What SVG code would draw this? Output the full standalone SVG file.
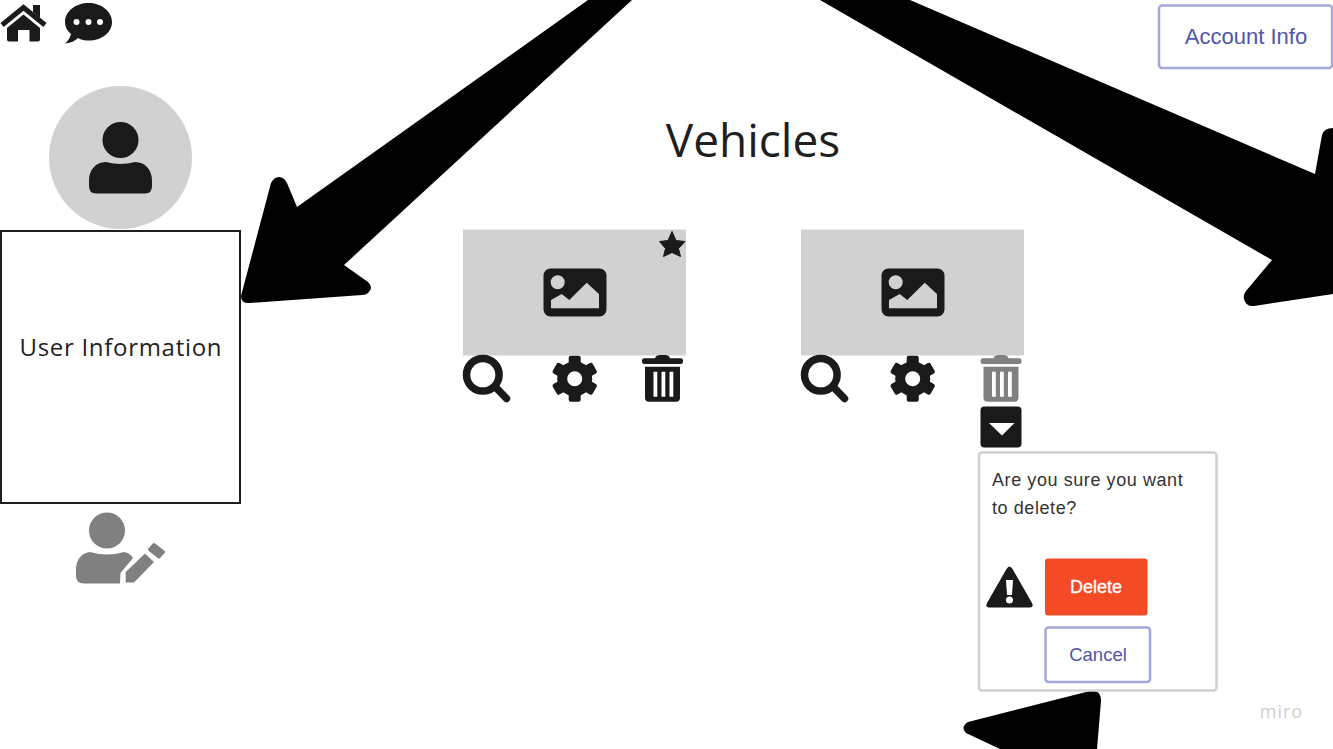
<svg xmlns="http://www.w3.org/2000/svg" width="1333" height="749" viewBox="0 0 1333 749">
<style>
.ink{fill:#1a1a1a}
.gray{fill:#d1d1d1}
.mute{fill:#808080}
.arrow{fill:#000}
.btn{fill:#fff;stroke:#a5a8da;stroke-width:2.5}
.os{font-family:"Open Sans","Noto Sans",sans-serif;fill:#1f1f1f}
.ls{font-family:"Liberation Sans",Arial,sans-serif}
.link{fill:#4f55ad}
</style>
<defs>
<g id="picture"><path class="ink" fill-rule="evenodd" d="M7 0H56a7 7 0 0 1 7 7V41a7 7 0 0 1-7 7H7a7 7 0 0 1-7-7V7a7 7 0 0 1 7-7ZM21.200 13.800a7 7 0 1 0-14 0 7 7 0 0 0 14 0ZM7.500 39.800H55.500V25.500L43.200 14.200 25.800 31.500 18.200 25.500 7.500 31.500Z"/></g>
<g id="magnifier"><circle cx="19.800" cy="17.800" r="16.300" fill="none" stroke="#1a1a1a" stroke-width="7.500"/><path d="M32 29.700L43.500 41.500" stroke="#1a1a1a" stroke-width="7.500" stroke-linecap="round"/></g>
<g id="gear"><g class="ink"><rect x="-6" y="-23" width="12" height="46" rx="2"/><rect x="-6" y="-23" width="12" height="46" rx="2" transform="rotate(60)"/><rect x="-6" y="-23" width="12" height="46" rx="2" transform="rotate(120)"/><circle r="17.500"/></g><circle r="7.500" fill="#fff"/></g>
<g id="trash-shape"><path fill-rule="evenodd" d="M0 5.500Q0 3.300 2.500 3.300H13Q14 0 18 0H23Q27 0 28 3.300H38.500Q41 3.300 41 5.500V7Q41 9 38.500 9H2.500Q0 9 0 7ZM3 11.700H38V43Q38 46.700 34 46.700H7Q3 46.700 3 43ZM11.500 16.700V41.700H15.300V16.700ZM19.500 16.700V41.700H23.300V16.700ZM27.500 16.700V41.700H31.300V16.700Z"/></g>
</defs>

<rect width="1333" height="749" fill="#fff"/>

<g id="connectors">
<path class="arrow" d="M588 0H632L344 265 368 282Q374 288 368 293Q366 295 362 295L250 303Q241 304 241 296L271 183Q274 177 279 177Q284 177 287 183L297 207Z"/>
<path class="arrow" d="M820 0H910L1315 174 1322 135Q1324 128 1333 128V294L1254 306Q1246 307 1244 299Q1243 295 1246 291L1272 260Z"/>
<path class="arrow" d="M968 722L1090 691Q1101 689 1101 701L1097 749H1000L966 733Q960 727 968 722Z"/>
</g>

<g id="home"><path d="M2 25L23.500 7.500 45 25" fill="none" stroke="#1a1a1a" stroke-width="5"/><path class="ink" d="M33 5H40V18L33 12Z"/><path class="ink" d="M23.500 14.500L40 28V39.500Q40 41.500 38 41.500H29.500V30H18V41.500H9Q7 41.500 7 39.500V28Z"/></g>

<g id="chat"><path class="ink" d="M88.500 3C101 3 112 11 112 22S101 40.500 89 40.500C85 40.500 81 40 78 38 75 41 71 43 65 43.500 68 41 70 38 71 34 67 31 65 27 65 22 65 11 76 3 88.500 3Z"/><circle cx="76.500" cy="22" r="3" fill="#fff"/><circle cx="88.500" cy="22" r="3" fill="#fff"/><circle cx="100" cy="22" r="3" fill="#fff"/></g>

<g id="avatar"><circle class="gray" cx="120.500" cy="157.500" r="71.500"/><circle class="ink" cx="120.500" cy="140" r="18"/><path class="ink" d="M106 162Q120.500 166 135 162C146 162 152 171 152 180V186Q152 193.500 145 193.500H96Q89 193.500 89 186V180C89 171 95 162 106 162Z"/></g>

<g id="user-information"><rect x="1" y="231" width="239" height="272" fill="#fff" stroke="#1f1f1f" stroke-width="2"/><text class="os" x="120.500" y="356" font-size="24" text-anchor="middle" textLength="202">User Information</text></g>

<g id="edit-user"><circle class="mute" cx="107" cy="530.500" r="18"/><path class="mute" d="M90 552Q107 557 124 552Q130 553 133 558L120.500 573 120 583.500H84Q76 583.500 76 576V570C76 560 81 553 90 552Z"/><path class="mute" d="M125.700 582.500V572L145 553.500 154 562 134 582.500Z"/><path class="mute" stroke="#808080" stroke-width="3" stroke-linejoin="round" d="M154 544.500L163.500 552 159 557 149.500 549.500Z"/></g>

<g id="title"><text class="os" x="753" y="157" font-size="46" text-anchor="middle">Vehicles</text></g>

<g id="account-info"><rect class="btn" x="1159" y="5.500" width="173" height="62.500" rx="3"/><text class="ls link" x="1246" y="44" font-size="22" text-anchor="middle">Account Info</text></g>

<g id="vehicle-1">
<rect class="gray" x="463" y="229.500" width="223" height="126"/>
<use href="#picture" x="543.500" y="268.500"/>
<path class="ink" d="M672 231.500L676 240.500 685 241.500 678.500 248.500 680.500 256.500 672 252.500 663.500 256.500 665.500 248.500 659.500 241.500 668 240.500Z" stroke="#1a1a1a" stroke-width="1" stroke-linejoin="round"/>
<use href="#magnifier" x="463" y="357"/>
<use href="#gear" x="574.700" y="378.800"/>
<use href="#trash-shape" x="642" y="355" class="ink"/>
</g>

<g id="vehicle-2">
<rect class="gray" x="801" y="229.500" width="223" height="126"/>
<use href="#picture" x="881.500" y="268.500"/>
<use href="#magnifier" x="801" y="357"/>
<use href="#gear" x="912.700" y="378.800"/>
<use href="#trash-shape" x="980.500" y="355" class="mute"/>
</g>

<g id="dropdown"><rect class="ink" x="980.500" y="406.500" width="41" height="41" rx="4"/><path d="M989 423H1014.500L1002 435.500Z" fill="#fff"/></g>

<g id="delete-dialog">
<rect x="979" y="452.500" width="237.500" height="238" rx="3" fill="#fff" stroke="#d1d1d1" stroke-width="2.500"/>
<text class="ls" font-size="18" letter-spacing=".58" fill="#333"><tspan x="992" y="486">Are you sure you want</tspan><tspan x="992" y="514">to delete?</tspan></text>
<path class="ink" d="M1009.500 566.500Q1011 566.500 1012.500 569L1032 603Q1034 607.500 1030 607.500H989Q985 607.500 987 603L1006.500 569Q1008 566.500 1009.500 566.500Z"/>
<path d="M1006 580H1013L1012 595H1007Z" fill="#fff"/><circle cx="1009.500" cy="600" r="3.500" fill="#fff"/>
<rect x="1045" y="558.500" width="102.500" height="57" rx="3" fill="#f44a26"/>
<text class="ls" x="1096" y="592.500" font-size="18" fill="#fff" stroke="#fff" stroke-width=".3" text-anchor="middle">Delete</text>
<rect class="btn" x="1045.500" y="627.500" width="104.500" height="54.500" rx="3"/>
<text class="ls link" x="1098" y="660.500" font-size="18.500" text-anchor="middle">Cancel</text>
</g>

<g id="watermark"><text x="1281.500" y="718" font-family="'Open Sans',sans-serif" font-size="18" letter-spacing="1" fill="#cfcfcf" text-anchor="middle">miro</text></g>
</svg>
